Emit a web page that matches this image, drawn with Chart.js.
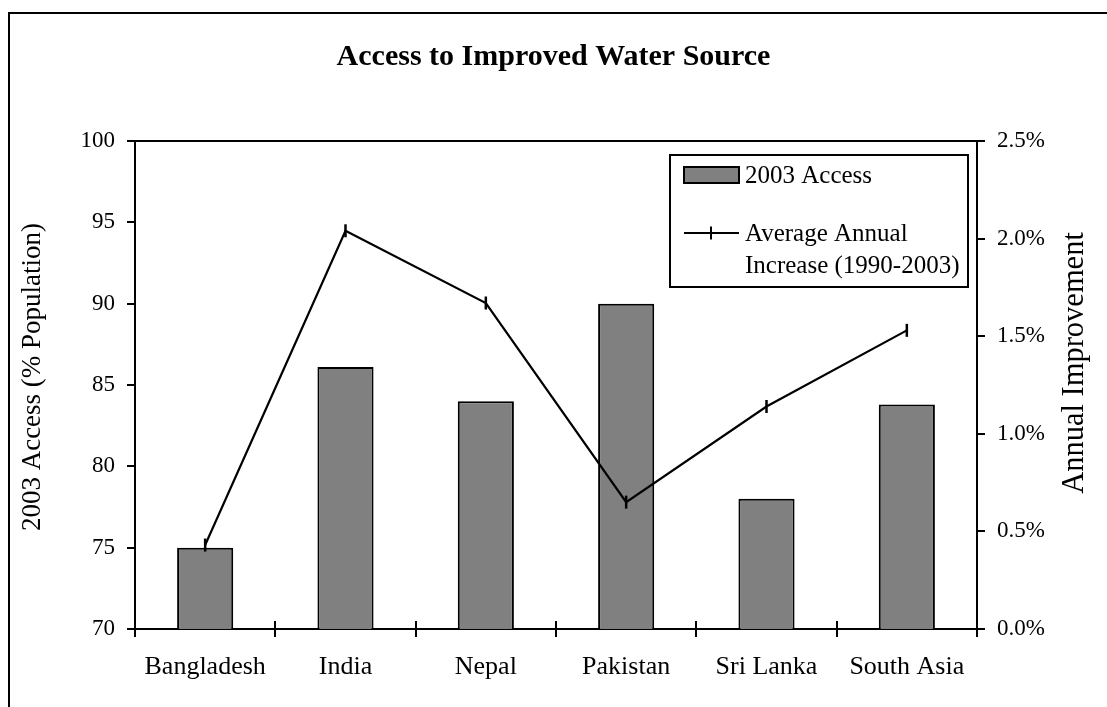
<!DOCTYPE html>
<html>
<head>
<meta charset="utf-8">
<title>Access to Improved Water Source</title>
<script src="https://cdn.jsdelivr.net/npm/chart.js@4.4.1/dist/chart.umd.min.js"></script>
<style>
    html, body { margin: 0; padding: 0; background: #fff; overflow: hidden; }
    #waterChart { display: block; }
</style>
</head>
<body>
<canvas id="waterChart" width="1107" height="707"></canvas>
<script>
// chart data
var countries = ["Bangladesh", "India", "Nepal", "Pakistan", "Sri Lanka", "South Asia"];
var access2003 = [75, 86.1, 84, 90, 78, 83.8];          // % population
var annualIncrease = [0.43, 2.04, 1.67, 0.65, 1.14, 1.53]; // % per year, 1990-2003
var accessTicks = [70, 75, 80, 85, 90, 95, 100];
var increaseTicks = [0, 0.5, 1, 1.5, 2, 2.5];

var titleText = "Access to Improved Water Source";
var leftTitle = "2003 Access (% Population)";
var rightTitle = "Annual Improvement";
var barLegend = ["2003 Access"];
var lineLegend = ["Average Annual", "Increase (1990-2003)"];

var serif = "'Liberation Serif', 'Times New Roman', serif";
var barGray = "#808080";

Chart.defaults.font.family = serif;
Chart.defaults.color = "#000";

/**
 * frame, plot box, crossing category ticks, axis titles and the legend
 */
var decorations = {
    id: "decorations",
    beforeDraw: function (chart) {
        var ctx = chart.ctx;
        ctx.save();
        ctx.fillStyle = "#fff";
        ctx.fillRect(0, 0, chart.width, chart.height);
        ctx.strokeStyle = "#000";
        ctx.lineWidth = 2;
        ctx.strokeRect(9, 13, chart.width + 40, chart.height + 40);
        ctx.restore();
    },
    afterDraw: function (chart) {
        var ctx = chart.ctx;
        var area = chart.chartArea;
        ctx.save();
        ctx.strokeStyle = "#000";
        ctx.lineWidth = 2;

        // top edge of the plot box
        ctx.beginPath();
        ctx.moveTo(area.left - 1, area.top);
        ctx.lineTo(area.right + 1, area.top);
        ctx.stroke();

        // category ticks also reach up into the plot
        var step = (area.right - area.left) / countries.length;
        ctx.beginPath();
        for (var i = 0; i <= countries.length; i++) {
            var px = Math.round(area.left + i * step);
            ctx.moveTo(px, area.bottom - 8);
            ctx.lineTo(px, area.bottom);
        }
        ctx.stroke();

        // axis titles, both read bottom to top
        ctx.fillStyle = "#000";
        ctx.textAlign = "center";
        ctx.textBaseline = "middle";
        ctx.save();
        ctx.translate(33, area.top + (area.bottom - area.top) / 2 - 8);
        ctx.rotate(-Math.PI / 2);
        ctx.font = "27px " + serif;
        ctx.fillText(leftTitle, 0, 0);
        ctx.restore();

        ctx.save();
        ctx.translate(1075, area.top + (area.bottom - area.top) / 2 - 22);
        ctx.rotate(-Math.PI / 2);
        ctx.font = "30.5px " + serif;
        ctx.fillText(rightTitle, 0, 0);
        ctx.restore();

        // legend box
        var lx = area.right - 307, ly = area.top + 14, lw = 298, lh = 132;
        ctx.fillStyle = "#fff";
        ctx.fillRect(lx, ly, lw, lh);
        ctx.strokeRect(lx, ly, lw, lh);

        var bars = chart.data.datasets[1];
        var line = chart.data.datasets[0];
        ctx.fillStyle = bars.backgroundColor;
        ctx.fillRect(lx + 14, ly + 12, 55, 16);
        ctx.strokeRect(lx + 14, ly + 12, 55, 16);

        ctx.strokeStyle = line.borderColor;
        ctx.beginPath();
        ctx.moveTo(lx + 14, ly + 78);
        ctx.lineTo(lx + 69, ly + 78);
        ctx.moveTo(lx + 41, ly + 78 - line.pointRadius);
        ctx.lineTo(lx + 41, ly + 78 + line.pointRadius);
        ctx.stroke();

        ctx.fillStyle = "#000";
        ctx.textAlign = "left";
        ctx.font = "25px " + serif;
        ctx.fillText(barLegend[0], lx + 75, ly + 21);
        ctx.fillText(lineLegend[0], lx + 75, ly + 79);
        ctx.fillText(lineLegend[1], lx + 75, ly + 111);
        ctx.restore();
    }
};

var ctx = document.getElementById("waterChart").getContext("2d");

var chart = new Chart(ctx, {
    type: "bar",
    data: {
        labels: countries,
        datasets: [{
            type: "line",
            label: lineLegend.join(" "),
            data: annualIncrease,
            yAxisID: "y1",
            order: 1,
            borderColor: "#000",
            borderWidth: 2.2,
            fill: false,
            tension: 0,
            pointStyle: "line",
            pointRotation: 90,
            pointRadius: 6.5,
            pointBorderColor: "#000",
            pointBorderWidth: 2.5
        }, {
            type: "bar",
            label: barLegend[0],
            data: access2003,
            yAxisID: "y",
            order: 2,
            backgroundColor: barGray,
            borderColor: "#000",
            borderWidth: 2,
            barPercentage: 0.4,
            categoryPercentage: 1.0
        }]
    },
    options: {
        responsive: false,
        animation: false,
        events: [],
        layout: { padding: 0 },
        plugins: {
            legend: { display: false },
            tooltip: { enabled: false },
            title: {
                display: true,
                text: titleText,
                color: "#000",
                font: { family: serif, size: 30, weight: "bold" },
                padding: { top: 39, bottom: 66 }
            }
        },
        scales: {
            x: {
                offset: true,
                grid: { offset: true, drawOnChartArea: false, drawTicks: true, tickLength: 8, color: "#000", lineWidth: 2 },
                border: { display: true, color: "#000", width: 2 },
                ticks: { font: { size: 26 }, color: "#000", padding: 15, maxRotation: 0 },
                afterFit: function (s) { s.height = 78; }
            },
            y: {
                position: "left",
                min: 70,
                max: 100,
                grid: { drawOnChartArea: false, drawTicks: true, tickLength: 8, color: "#000", lineWidth: 2 },
                border: { display: true, color: "#000", width: 2 },
                ticks: { font: { size: 23 }, color: "#000", padding: 12 },
                afterBuildTicks: function (s) {
                    s.ticks = accessTicks.map(function (v) { return { value: v }; });
                },
                afterFit: function (s) { s.width = 135; }
            },
            y1: {
                position: "right",
                min: 0,
                max: 2.5,
                grid: { drawOnChartArea: false, drawTicks: true, tickLength: 8, color: "#000", lineWidth: 2 },
                border: { display: true, color: "#000", width: 2 },
                ticks: {
                    font: { size: 23 },
                    color: "#000",
                    padding: 12,
                    callback: function (v) { return v.toFixed(1) + "%"; }
                },
                afterBuildTicks: function (s) {
                    s.ticks = increaseTicks.map(function (v) { return { value: v }; });
                },
                afterFit: function (s) { s.width = 130; }
            }
        }
    },
    plugins: [decorations]
});
</script>
</body>
</html>
